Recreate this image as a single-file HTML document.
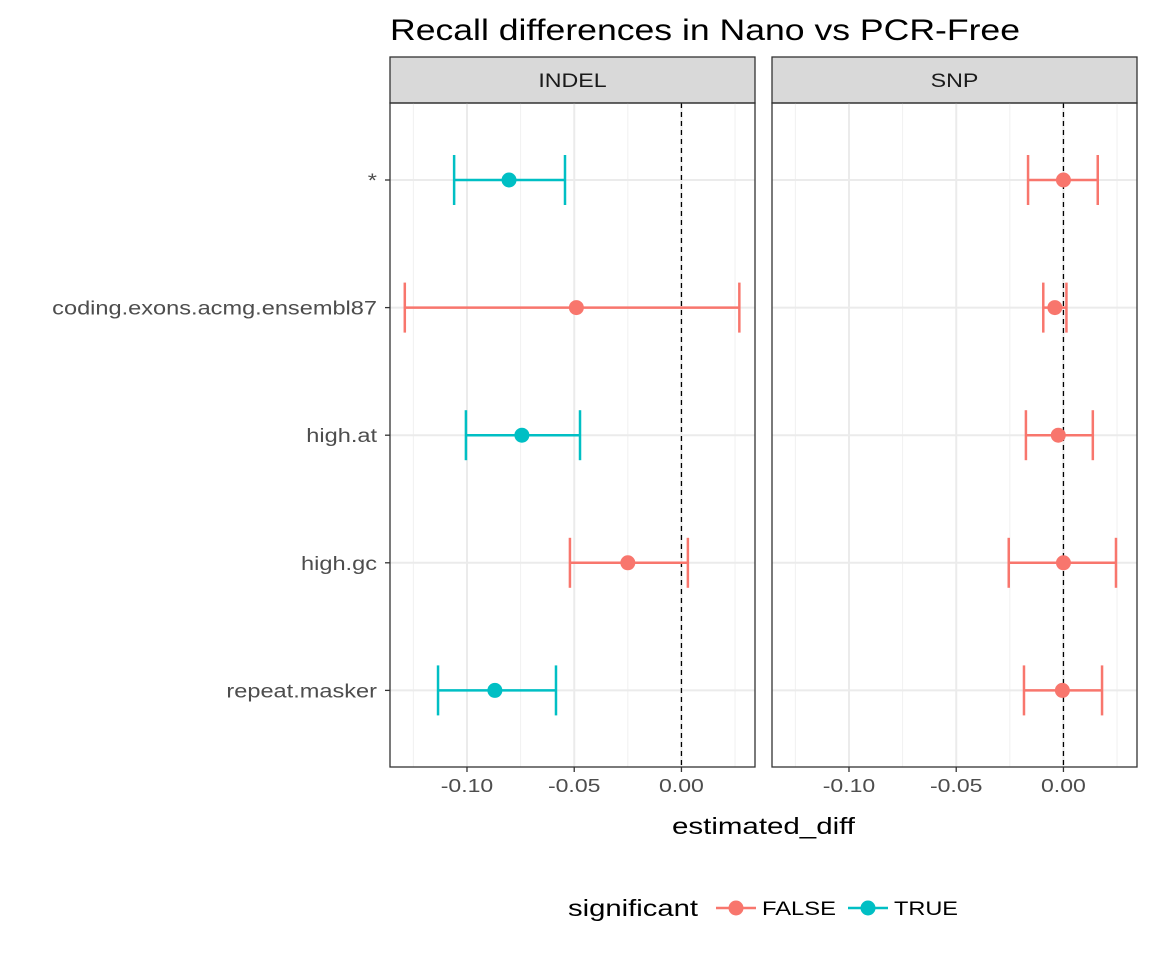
<!DOCTYPE html>
<html><head><meta charset="utf-8"><style>
body{margin:0;background:#fff}
svg{font-family:"Liberation Sans",sans-serif;display:block}
</style></head><body>
<svg id="chart" width="1152" height="960" viewBox="0 0 1152 960" xmlns="http://www.w3.org/2000/svg">
<text x="390" y="40" font-size="30" fill="#000" textLength="630" lengthAdjust="spacingAndGlyphs">Recall differences in Nano vs PCR-Free</text>
<g id="panels"></g>
<text x="672" y="834" font-size="23" fill="#000" textLength="183" lengthAdjust="spacingAndGlyphs">estimated_diff</text>
<g>
<text x="568" y="916" font-size="23" textLength="130" lengthAdjust="spacingAndGlyphs">significant</text>
<g><line x1="716" y1="908" x2="756" y2="908" stroke="#F8766D" stroke-width="2.5"/><circle cx="736" cy="908" r="7.5" fill="#F8766D"/><text x="762" y="915" font-size="19" fill="#000" textLength="74" lengthAdjust="spacingAndGlyphs">FALSE</text></g>
<g><line x1="848" y1="908" x2="888" y2="908" stroke="#00BFC4" stroke-width="2.5"/><circle cx="868" cy="908" r="7.5" fill="#00BFC4"/><text x="894" y="915" font-size="19" fill="#000" textLength="64" lengthAdjust="spacingAndGlyphs">TRUE</text></g>
</g>
</svg>
<script>
const categories = ["*","coding.exons.acmg.ensembl87","high.at","high.gc","repeat.masker"];
const panelNames = ["INDEL","SNP"];
const indelEst = [-0.0804,-0.049,-0.0744,-0.025,-0.087];
const indelLo = [-0.106,-0.129,-0.1005,-0.052,-0.1135];
const indelHi = [-0.0543,0.027,-0.0473,0.003,-0.0585];
const indelSig = [true,false,true,false,true];
const snpEst = [0,-0.004,-0.0024,0,-0.0005];
const snpLo = [-0.0165,-0.0094,-0.0175,-0.0255,-0.0184];
const snpHi = [0.016,0.0014,0.0137,0.0245,0.018];
const snpSig = [false,false,false,false,false];
const xTicks = [-0.10,-0.05,0.00];
const xTickLabels = ["-0.10","-0.05","0.00"];
const xMinor = [-0.125,-0.075,-0.025,0.025];

(function(){
const NS="http://www.w3.org/2000/svg";
const g=document.getElementById('panels');
function mk(t,a,p){const e=document.createElementNS(NS,t);for(const k in a)e.setAttribute(k,a[k]);(p||g).appendChild(e);return e;}
function widen(t,f){const w=t.getComputedTextLength();if(w>0){t.setAttribute('textLength',(w*f).toFixed(1));t.setAttribute('lengthAdjust','spacingAndGlyphs');}}
const pw=365, pTop=103, pBot=767, xmin=-0.1359, xmax=0.0343;
const lefts=[390,772];
function yScale(i){return 180+i*127.6;}
const series=[[indelEst,indelLo,indelHi,indelSig],[snpEst,snpLo,snpHi,snpSig]];
panelNames.forEach((pn,pi)=>{
  const L=lefts[pi];
  const xs=v=>L+(v-xmin)/(xmax-xmin)*pw;
  const pg=mk('g',{});
  
  
  const strip=mk('rect',{x:L,y:57,width:pw,height:46,fill:'#d9d9d9',stroke:'#333','stroke-width':1.3},pg);
  
  
  const st=mk('text',{x:L+pw/2,y:87,'font-size':19,'text-anchor':'middle',fill:'#1a1a1a'},pg);st.textContent=pn;
  
  
  widen(st,1.22);
  xMinor.forEach(v=>mk('line',{x1:xs(v),x2:xs(v),y1:pTop,y2:pBot,stroke:'#f0f0f0','stroke-width':1},pg));
  xTicks.forEach(v=>mk('line',{x1:xs(v),x2:xs(v),y1:pTop,y2:pBot,stroke:'#ebebeb','stroke-width':2},pg));
  categories.forEach((c,i)=>mk('line',{x1:L,x2:L+pw,y1:yScale(i),y2:yScale(i),stroke:'#ebebeb','stroke-width':2},pg));
  mk('line',{x1:xs(0),x2:xs(0),y1:pTop,y2:pBot,stroke:'#000','stroke-width':1.3,'stroke-dasharray':'5,4'},pg);
  const [e,lo,hi,sig]=series[pi];
  categories.forEach((c,i)=>{
    const col=sig[i]?'#00BFC4':'#F8766D', y=yScale(i);
    const eg=mk('g',{},pg);
    
    
    mk('line',{x1:xs(lo[i]),x2:xs(hi[i]),y1:y,y2:y,stroke:col,'stroke-width':2.5},eg);
    mk('line',{x1:xs(lo[i]),x2:xs(lo[i]),y1:y-25,y2:y+25,stroke:col,'stroke-width':2.5},eg);
    mk('line',{x1:xs(hi[i]),x2:xs(hi[i]),y1:y-25,y2:y+25,stroke:col,'stroke-width':2.5},eg);
    mk('circle',{cx:xs(e[i]),cy:y,r:7.5,fill:col},eg);
  });
  mk('rect',{x:L,y:pTop,width:pw,height:pBot-pTop,fill:'none',stroke:'#333','stroke-width':1.3},pg);
  xTicks.forEach((v,k)=>{
    mk('line',{x1:xs(v),x2:xs(v),y1:pBot,y2:pBot+5,stroke:'#333','stroke-width':1.3},pg);
    const t=mk('text',{x:xs(v),y:pBot+25,'font-size':18,'text-anchor':'middle',fill:'#4d4d4d'},pg);t.textContent=xTickLabels[k];
    
    
    widen(t,1.28);
  });
});
categories.forEach((c,i)=>{
  const y=yScale(i);
  mk('line',{x1:385,x2:390,y1:y,y2:y,stroke:'#333','stroke-width':1.3});
  const t=mk('text',{x:377,y:y+7,'font-size':19,'text-anchor':'end',fill:'#4d4d4d'});t.textContent=c;
  
  
  widen(t,1.24);
});
})();
</script>
</body></html>
